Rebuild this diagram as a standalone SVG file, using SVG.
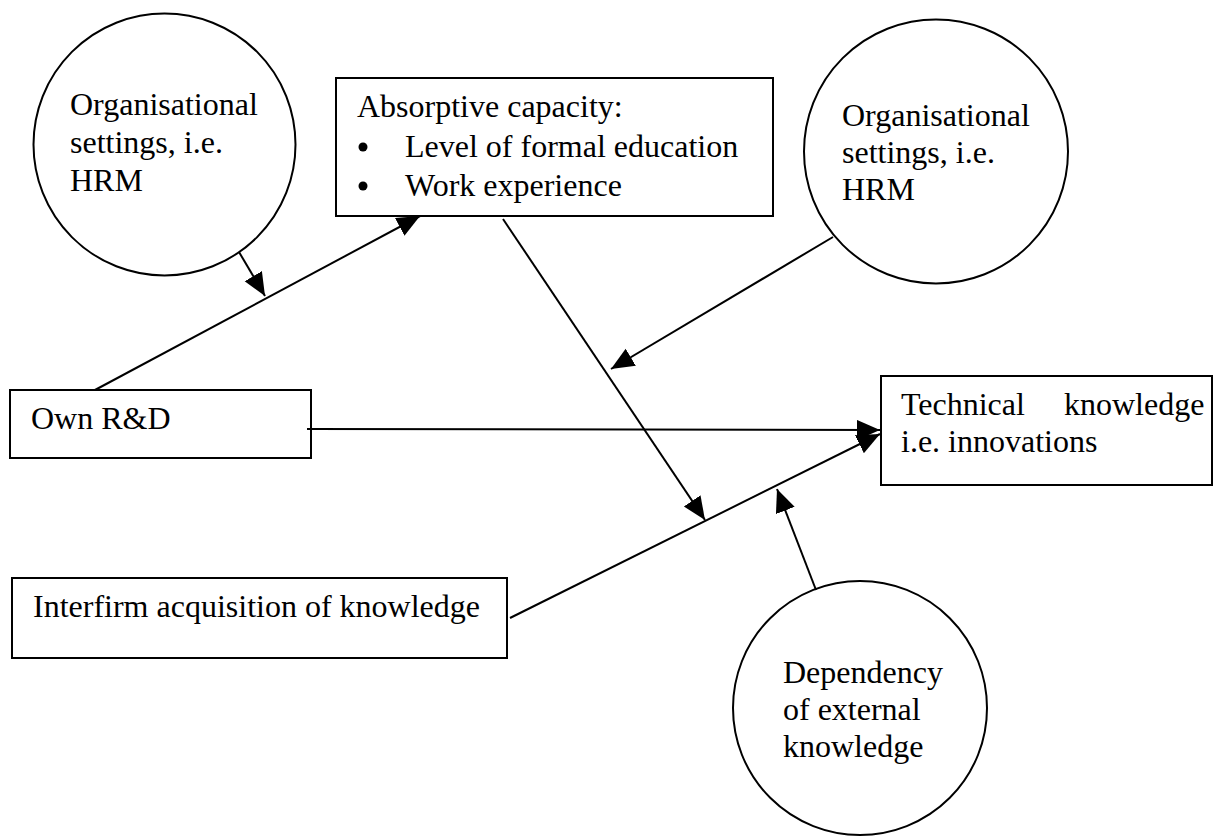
<svg xmlns="http://www.w3.org/2000/svg" width="1222" height="836" viewBox="0 0 1222 836">
<style>
.n{fill:#fff;stroke:#000;stroke-width:2}
.t{font-size:32px;fill:#000}
.c{stroke:#000;stroke-width:2;fill:none}
</style>
<defs>
<marker id="ah" markerUnits="userSpaceOnUse" markerWidth="26" markerHeight="24" refX="23" refY="10" orient="auto">
<path d="M0,0 L23,10 L0,20 Z" fill="#000"/>
</marker>
</defs>
<rect width="1222" height="836" fill="#fff"/>
<g font-family="'Liberation Serif', 'DejaVu Serif', serif">
<g id="org1">
<circle class="n" cx="164.5" cy="144.5" r="131"/>
<text class="t" x="70" y="115">Organisational</text>
<text class="t" x="70" y="153">settings, i.e.</text>
<text class="t" x="70" y="191">HRM</text>
</g>
<g id="absorptive">
<rect class="n" x="336" y="78" width="437" height="138"/>
<text class="t" x="357" y="117">Absorptive capacity:</text>
<circle cx="363" cy="147" r="4.5" fill="#000"/>
<text class="t" x="405" y="157">Level of formal education</text>
<circle cx="363" cy="186" r="4.5" fill="#000"/>
<text class="t" x="405" y="196">Work experience</text>
</g>
<g id="org2">
<circle class="n" cx="936" cy="151.5" r="132"/>
<text class="t" x="842" y="126">Organisational</text>
<text class="t" x="842" y="163">settings, i.e.</text>
<text class="t" x="842" y="200">HRM</text>
</g>
<g id="ownrd">
<rect class="n" x="10" y="390" width="301" height="68"/>
<text class="t" x="31" y="429">Own R&amp;D</text>
</g>
<g id="technical">
<rect class="n" x="881" y="376" width="331" height="109"/>
<text class="t" x="901" y="415">Technical</text>
<text class="t" x="1064" y="415">knowledge</text>
<text class="t" x="901" y="452">i.e. innovations</text>
</g>
<g id="interfirm">
<rect class="n" x="12" y="578" width="495" height="80"/>
<text class="t" x="33" y="617">Interfirm acquisition of knowledge</text>
</g>
<g id="dependency">
<circle class="n" cx="860" cy="708" r="127"/>
<text class="t" x="783" y="683">Dependency</text>
<text class="t" x="783" y="720">of external</text>
<text class="t" x="783" y="757">knowledge</text>
</g>
</g>
<g id="connectors">
<line class="c" x1="95" y1="390" x2="420" y2="216" marker-end="url(#ah)"/>
<line class="c" x1="239" y1="252" x2="265" y2="296" marker-end="url(#ah)"/>
<line class="c" x1="503" y1="219" x2="705" y2="520" marker-end="url(#ah)"/>
<line class="c" x1="307" y1="429" x2="880" y2="430" marker-end="url(#ah)"/>
<line class="c" x1="510" y1="618" x2="880" y2="434" marker-end="url(#ah)"/>
<line class="c" x1="833" y1="237" x2="611" y2="369" marker-end="url(#ah)"/>
<line class="c" x1="816" y1="590" x2="777" y2="489" marker-end="url(#ah)"/>
</g>
</svg>
